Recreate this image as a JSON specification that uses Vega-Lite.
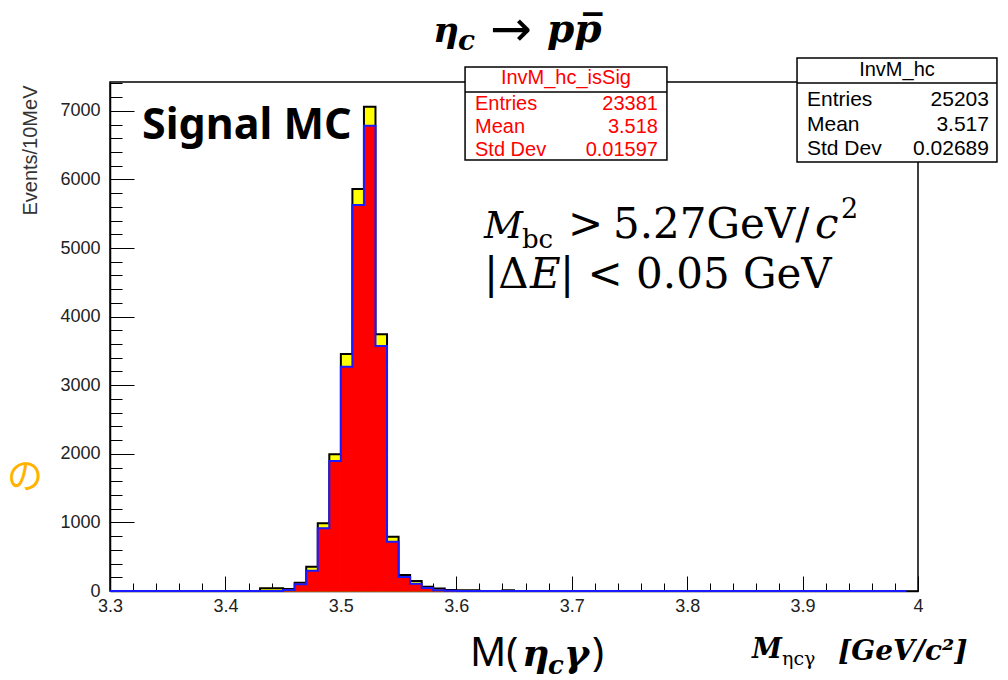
{
  "$schema": "https://vega.github.io/schema/vega-lite/v6.json",
  "width": 808,
  "height": 509,
  "autosize": {"type": "none"},
  "padding": {"left": 110, "top": 82, "right": 90, "bottom": 89},
  "background": "#ffffff",
  "config": {
    "view": {"stroke": "#000000", "strokeWidth": 1.5},
    "axis": {"grid": false}
  },
  "resolve": {"axis": {"x": "independent", "y": "independent"}},
  "datasets": {
    "hist": [
      {"lo": 3.30, "hi": 3.31, "total": 0, "sig": 0},
      {"lo": 3.31, "hi": 3.32, "total": 0, "sig": 0},
      {"lo": 3.32, "hi": 3.33, "total": 0, "sig": 0},
      {"lo": 3.33, "hi": 3.34, "total": 0, "sig": 0},
      {"lo": 3.34, "hi": 3.35, "total": 0, "sig": 0},
      {"lo": 3.35, "hi": 3.36, "total": 0, "sig": 0},
      {"lo": 3.36, "hi": 3.37, "total": 0, "sig": 0},
      {"lo": 3.37, "hi": 3.38, "total": 0, "sig": 0},
      {"lo": 3.38, "hi": 3.39, "total": 0, "sig": 0},
      {"lo": 3.39, "hi": 3.40, "total": 0, "sig": 0},
      {"lo": 3.40, "hi": 3.41, "total": 0, "sig": 0},
      {"lo": 3.41, "hi": 3.42, "total": 0, "sig": 0},
      {"lo": 3.42, "hi": 3.43, "total": 0, "sig": 0},
      {"lo": 3.43, "hi": 3.44, "total": 40, "sig": 0},
      {"lo": 3.44, "hi": 3.45, "total": 40, "sig": 0},
      {"lo": 3.45, "hi": 3.46, "total": 30, "sig": 15},
      {"lo": 3.46, "hi": 3.47, "total": 120, "sig": 100},
      {"lo": 3.47, "hi": 3.48, "total": 354, "sig": 296},
      {"lo": 3.48, "hi": 3.49, "total": 987, "sig": 914},
      {"lo": 3.49, "hi": 3.50, "total": 1993, "sig": 1895},
      {"lo": 3.50, "hi": 3.51, "total": 3455, "sig": 3270},
      {"lo": 3.51, "hi": 3.52, "total": 5860, "sig": 5627},
      {"lo": 3.52, "hi": 3.53, "total": 7060, "sig": 6783},
      {"lo": 3.53, "hi": 3.54, "total": 3742, "sig": 3571},
      {"lo": 3.54, "hi": 3.55, "total": 792, "sig": 719},
      {"lo": 3.55, "hi": 3.56, "total": 232, "sig": 205},
      {"lo": 3.56, "hi": 3.57, "total": 145, "sig": 106},
      {"lo": 3.57, "hi": 3.58, "total": 62, "sig": 45},
      {"lo": 3.58, "hi": 3.59, "total": 38, "sig": 12},
      {"lo": 3.59, "hi": 3.60, "total": 15, "sig": 3},
      {"lo": 3.60, "hi": 3.61, "total": 12, "sig": 0},
      {"lo": 3.61, "hi": 3.62, "total": 12, "sig": 0},
      {"lo": 3.62, "hi": 3.63, "total": 0, "sig": 0},
      {"lo": 3.63, "hi": 3.64, "total": 0, "sig": 0},
      {"lo": 3.64, "hi": 3.65, "total": 12, "sig": 0},
      {"lo": 3.65, "hi": 3.66, "total": 0, "sig": 0},
      {"lo": 3.66, "hi": 3.67, "total": 0, "sig": 0},
      {"lo": 3.67, "hi": 3.68, "total": 0, "sig": 0},
      {"lo": 3.68, "hi": 3.69, "total": 0, "sig": 0},
      {"lo": 3.69, "hi": 3.70, "total": 0, "sig": 0},
      {"lo": 3.70, "hi": 3.71, "total": 0, "sig": 0},
      {"lo": 3.71, "hi": 3.72, "total": 0, "sig": 0},
      {"lo": 3.72, "hi": 3.73, "total": 0, "sig": 0},
      {"lo": 3.73, "hi": 3.74, "total": 0, "sig": 0},
      {"lo": 3.74, "hi": 3.75, "total": 0, "sig": 0},
      {"lo": 3.75, "hi": 3.76, "total": 0, "sig": 0},
      {"lo": 3.76, "hi": 3.77, "total": 0, "sig": 0},
      {"lo": 3.77, "hi": 3.78, "total": 0, "sig": 0},
      {"lo": 3.78, "hi": 3.79, "total": 0, "sig": 0},
      {"lo": 3.79, "hi": 3.80, "total": 0, "sig": 0},
      {"lo": 3.80, "hi": 3.81, "total": 0, "sig": 0},
      {"lo": 3.81, "hi": 3.82, "total": 0, "sig": 0},
      {"lo": 3.82, "hi": 3.83, "total": 0, "sig": 0},
      {"lo": 3.83, "hi": 3.84, "total": 0, "sig": 0},
      {"lo": 3.84, "hi": 3.85, "total": 0, "sig": 0},
      {"lo": 3.85, "hi": 3.86, "total": 0, "sig": 0},
      {"lo": 3.86, "hi": 3.87, "total": 0, "sig": 0},
      {"lo": 3.87, "hi": 3.88, "total": 0, "sig": 0},
      {"lo": 3.88, "hi": 3.89, "total": 0, "sig": 0},
      {"lo": 3.89, "hi": 3.90, "total": 0, "sig": 0},
      {"lo": 3.90, "hi": 3.91, "total": 0, "sig": 0},
      {"lo": 3.91, "hi": 3.92, "total": 0, "sig": 0},
      {"lo": 3.92, "hi": 3.93, "total": 0, "sig": 0},
      {"lo": 3.93, "hi": 3.94, "total": 0, "sig": 0},
      {"lo": 3.94, "hi": 3.95, "total": 0, "sig": 0},
      {"lo": 3.95, "hi": 3.96, "total": 0, "sig": 0},
      {"lo": 3.96, "hi": 3.97, "total": 0, "sig": 0},
      {"lo": 3.97, "hi": 3.98, "total": 0, "sig": 0},
      {"lo": 3.98, "hi": 3.99, "total": 0, "sig": 0},
      {"lo": 3.99, "hi": 4.00, "total": 0, "sig": 0}
    ]
  },
  "layer": [
    {
      "data": {"name": "hist"},
      "transform": [{"filter": "datum.total > 0"}],
      "mark": {"type": "rect", "fill": "#ffff00", "stroke": "#ffff00", "strokeWidth": 1},
      "encoding": {
        "x": {
          "field": "lo", "type": "quantitative",
          "scale": {"domain": [3.3, 4.0], "nice": false, "zero": false},
          "axis": {
            "orient": "bottom",
            "title": null,
            "values": [3.3, 3.4, 3.5, 3.6, 3.7, 3.8, 3.9, 4.0],
            "format": "~g",
            "tickSize": -15,
            "tickColor": "#000000", "tickWidth": 1,
            "domainColor": "#000000", "domainWidth": 1.5,
            "labelFont": "Liberation Sans", "labelFontSize": 18, "labelColor": "#222222",
            "labelPadding": 21, "labelFlush": false, "labelOverlap": false, "labelBound": false
          }
        },
        "x2": {"field": "hi"},
        "y": {
          "field": "total", "type": "quantitative",
          "scale": {"domain": [0, 7420], "nice": false},
          "axis": {
            "orient": "left",
            "title": "Events/10MeV",
            "values": [0, 1000, 2000, 3000, 4000, 5000, 6000, 7000],
            "format": "d",
            "tickSize": -24,
            "tickColor": "#000000", "tickWidth": 1,
            "domainColor": "#000000", "domainWidth": 1.5,
            "labelFont": "Liberation Sans", "labelFontSize": 18, "labelColor": "#222222",
            "labelPadding": 34, "labelFlush": false, "labelOverlap": false, "labelBound": false,
            "titleFont": "Liberation Sans", "titleFontSize": 20, "titleFontWeight": "normal", "titleColor": "#333333",
            "titleX": -80, "titleY": 3, "titleAlign": "right", "titleBaseline": "middle", "titleAngle": -90
          }
        },
        "y2": {"datum": 0}
      }
    },
    {
      "data": {"name": "hist"},
      "mark": {"type": "line", "interpolate": "step-after", "stroke": "#000000", "strokeWidth": 2},
      "encoding": {
        "x": {
          "field": "lo", "type": "quantitative",
          "axis": {
            "orient": "bottom",
            "title": null,
            "values": [3.32,3.34,3.36,3.38,3.42,3.44,3.46,3.48,3.52,3.54,3.56,3.58,3.62,3.64,3.66,3.68,3.72,3.74,3.76,3.78,3.82,3.84,3.86,3.88,3.92,3.94,3.96,3.98],
            "labels": false, "domain": false,
            "tickSize": -8, "tickColor": "#000000", "tickWidth": 1
          }
        },
        "y": {
          "field": "total", "type": "quantitative",
          "axis": {
            "orient": "left",
            "title": null,
            "values": [200,400,600,800,1200,1400,1600,1800,2200,2400,2600,2800,3200,3400,3600,3800,4200,4400,4600,4800,5200,5400,5600,5800,6200,6400,6600,6800,7200,7400],
            "labels": false, "domain": false,
            "tickSize": -12, "tickColor": "#000000", "tickWidth": 1
          }
        }
      }
    },
    {
      "data": {"name": "hist"},
      "transform": [{"filter": "datum.sig > 0"}],
      "mark": {"type": "rect", "fill": "#ff0000", "stroke": "#ff0000", "strokeWidth": 1},
      "encoding": {
        "x": {"field": "lo", "type": "quantitative", "axis": null},
        "x2": {"field": "hi"},
        "y": {"field": "sig", "type": "quantitative", "axis": null},
        "y2": {"datum": 0}
      }
    },
    {
      "data": {"name": "hist"},
      "mark": {"type": "line", "interpolate": "step-after", "stroke": "#1a1aff", "strokeWidth": 2},
      "encoding": {
        "x": {"field": "lo", "type": "quantitative", "axis": null},
        "y": {"field": "sig", "type": "quantitative", "axis": null}
      }
    },
    {
      "data": {"values": [{}]},
      "mark": {"type": "rect", "fill": "#ffffff", "stroke": "#000000", "strokeWidth": 1.5},
      "encoding": {
        "x": {"datum": 3.6076, "type": "quantitative", "axis": null},
        "x2": {"datum": 3.7825},
        "y": {"datum": 7638, "type": "quantitative", "axis": null},
        "y2": {"datum": 6283}
      }
    },
    {
      "data": {"values": [{}]},
      "mark": {"type": "rule", "stroke": "#000000", "strokeWidth": 1.5},
      "encoding": {
        "x": {"datum": 3.6076, "type": "quantitative", "axis": null},
        "x2": {"datum": 3.7825},
        "y": {"datum": 7274, "type": "quantitative", "axis": null}
      }
    },
    {
      "data": {"values": [{}]},
      "mark": {"type": "text", "text": "InvM_hc_isSig", "font": "Liberation Sans", "fontSize": 20, "color": "#ff0000", "align": "center", "baseline": "middle"},
      "encoding": {
        "x": {"datum": 3.6950, "type": "quantitative", "axis": null},
        "y": {"datum": 7478, "type": "quantitative", "axis": null}
      }
    },
    {
      "data": {"values": [{}]},
      "mark": {"type": "text", "text": ["Entries", "Mean", "Std Dev"], "lineHeight": 23, "font": "Liberation Sans", "fontSize": 20, "color": "#ff0000", "align": "left", "baseline": "middle"},
      "encoding": {
        "x": {"datum": 3.6162, "type": "quantitative", "axis": null},
        "y": {"datum": 7099, "type": "quantitative", "axis": null}
      }
    },
    {
      "data": {"values": [{}]},
      "mark": {"type": "text", "text": ["23381", "3.518", "0.01597"], "lineHeight": 23, "font": "Liberation Sans", "fontSize": 20, "color": "#ff0000", "align": "right", "baseline": "middle"},
      "encoding": {
        "x": {"datum": 3.7747, "type": "quantitative", "axis": null},
        "y": {"datum": 7099, "type": "quantitative", "axis": null}
      }
    },
    {
      "data": {"values": [{}]},
      "mark": {"type": "rect", "fill": "#ffffff", "stroke": "#000000", "strokeWidth": 1.5},
      "encoding": {
        "x": {"datum": 3.8952, "type": "quantitative", "axis": null},
        "x2": {"datum": 4.0684},
        "y": {"datum": 7770, "type": "quantitative", "axis": null},
        "y2": {"datum": 6254}
      }
    },
    {
      "data": {"values": [{}]},
      "mark": {"type": "rule", "stroke": "#000000", "strokeWidth": 1.5},
      "encoding": {
        "x": {"datum": 3.8952, "type": "quantitative", "axis": null},
        "x2": {"datum": 4.0684},
        "y": {"datum": 7405, "type": "quantitative", "axis": null}
      }
    },
    {
      "data": {"values": [{}]},
      "mark": {"type": "text", "text": "InvM_hc", "font": "Liberation Sans", "fontSize": 20, "color": "#000000", "align": "center", "baseline": "middle"},
      "encoding": {
        "x": {"datum": 3.9818, "type": "quantitative", "axis": null},
        "y": {"datum": 7595, "type": "quantitative", "axis": null}
      }
    },
    {
      "data": {"values": [{}]},
      "mark": {"type": "text", "text": ["Entries", "Mean", "Std Dev"], "lineHeight": 24.5, "font": "Liberation Sans", "fontSize": 21, "color": "#000000", "align": "left", "baseline": "middle"},
      "encoding": {
        "x": {"datum": 3.9038, "type": "quantitative", "axis": null},
        "y": {"datum": 7157, "type": "quantitative", "axis": null}
      }
    },
    {
      "data": {"values": [{}]},
      "mark": {"type": "text", "text": ["25203", "3.517", "0.02689"], "lineHeight": 24.5, "font": "Liberation Sans", "fontSize": 21, "color": "#000000", "align": "right", "baseline": "middle"},
      "encoding": {
        "x": {"datum": 4.0615, "type": "quantitative", "axis": null},
        "y": {"datum": 7157, "type": "quantitative", "axis": null}
      }
    },
    {
      "data": {"values": [{}]},
      "mark": {"type": "text", "text": "η", "font": "DejaVu Serif", "fontSize": 36, "fontStyle": "italic", "fontWeight": "bold", "align": "left", "baseline": "alphabetic", "color": "#000000"},
      "encoding": {"x": {"datum": 3.5798, "type": "quantitative", "axis": null}, "y": {"datum": 8003, "type": "quantitative", "axis": null}}
    },
    {
      "data": {"values": [{}]},
      "mark": {"type": "text", "text": "c", "font": "DejaVu Serif", "fontSize": 28, "fontStyle": "italic", "fontWeight": "bold", "align": "left", "baseline": "alphabetic", "color": "#000000"},
      "encoding": {"x": {"datum": 3.6015, "type": "quantitative", "axis": null}, "y": {"datum": 7886, "type": "quantitative", "axis": null}}
    },
    {
      "data": {"values": [{}]},
      "mark": {"type": "text", "text": "→", "font": "DejaVu Sans", "fontSize": 50, "align": "center", "baseline": "middle", "color": "#000000"},
      "encoding": {"x": {"datum": 3.6474, "type": "quantitative", "axis": null}, "y": {"datum": 8163, "type": "quantitative", "axis": null}}
    },
    {
      "data": {"values": [{}]},
      "mark": {"type": "text", "text": "pp̅", "font": "DejaVu Serif", "fontSize": 39, "fontStyle": "italic", "fontWeight": "bold", "align": "left", "baseline": "alphabetic", "color": "#000000"},
      "encoding": {"x": {"datum": 3.6786, "type": "quantitative", "axis": null}, "y": {"datum": 8003, "type": "quantitative", "axis": null}}
    },
    {
      "data": {"values": [{}]},
      "mark": {"type": "text", "text": "Signal MC", "font": "Noto Sans", "fontSize": 43, "fontWeight": "bold", "align": "left", "baseline": "alphabetic", "color": "#000000"},
      "encoding": {"x": {"datum": 3.3277, "type": "quantitative", "axis": null}, "y": {"datum": 6589, "type": "quantitative", "axis": null}}
    },
    {
      "data": {"values": [{}]},
      "mark": {"type": "text", "text": "M", "font": "DejaVu Serif", "fontSize": 38, "fontStyle": "italic", "align": "left", "baseline": "alphabetic", "color": "#000000"},
      "encoding": {"x": {"datum": 3.6240, "type": "quantitative", "axis": null}, "y": {"datum": 5146, "type": "quantitative", "axis": null}}
    },
    {
      "data": {"values": [{}]},
      "mark": {"type": "text", "text": "bc", "font": "DejaVu Serif", "fontSize": 26, "align": "left", "baseline": "alphabetic", "color": "#000000"},
      "encoding": {"x": {"datum": 3.6569, "type": "quantitative", "axis": null}, "y": {"datum": 5000, "type": "quantitative", "axis": null}}
    },
    {
      "data": {"values": [{}]},
      "mark": {"type": "text", "text": ">", "font": "DejaVu Serif", "fontSize": 42, "align": "left", "baseline": "alphabetic", "color": "#000000"},
      "encoding": {"x": {"datum": 3.6968, "type": "quantitative", "axis": null}, "y": {"datum": 5146, "type": "quantitative", "axis": null}}
    },
    {
      "data": {"values": [{}]},
      "mark": {"type": "text", "text": "5.27GeV/", "font": "DejaVu Serif", "fontSize": 42, "align": "left", "baseline": "alphabetic", "color": "#000000"},
      "encoding": {"x": {"datum": 3.7358, "type": "quantitative", "axis": null}, "y": {"datum": 5146, "type": "quantitative", "axis": null}}
    },
    {
      "data": {"values": [{}]},
      "mark": {"type": "text", "text": "c", "font": "DejaVu Serif", "fontSize": 42, "fontStyle": "italic", "align": "left", "baseline": "alphabetic", "color": "#000000"},
      "encoding": {"x": {"datum": 3.9108, "type": "quantitative", "axis": null}, "y": {"datum": 5146, "type": "quantitative", "axis": null}}
    },
    {
      "data": {"values": [{}]},
      "mark": {"type": "text", "text": "2", "font": "DejaVu Serif", "fontSize": 27, "align": "left", "baseline": "alphabetic", "color": "#000000"},
      "encoding": {"x": {"datum": 3.9333, "type": "quantitative", "axis": null}, "y": {"datum": 5437, "type": "quantitative", "axis": null}}
    },
    {
      "data": {"values": [{}]},
      "mark": {"type": "text", "text": "|Δ", "font": "DejaVu Serif", "fontSize": 42, "align": "left", "baseline": "alphabetic", "color": "#000000"},
      "encoding": {"x": {"datum": 3.6240, "type": "quantitative", "axis": null}, "y": {"datum": 4417, "type": "quantitative", "axis": null}}
    },
    {
      "data": {"values": [{}]},
      "mark": {"type": "text", "text": "E", "font": "DejaVu Serif", "fontSize": 42, "fontStyle": "italic", "align": "left", "baseline": "alphabetic", "color": "#000000"},
      "encoding": {"x": {"datum": 3.6639, "type": "quantitative", "axis": null}, "y": {"datum": 4417, "type": "quantitative", "axis": null}}
    },
    {
      "data": {"values": [{}]},
      "mark": {"type": "text", "text": "| < 0.05 GeV", "font": "DejaVu Serif", "fontSize": 42, "align": "left", "baseline": "alphabetic", "color": "#000000"},
      "encoding": {"x": {"datum": 3.6899, "type": "quantitative", "axis": null}, "y": {"datum": 4417, "type": "quantitative", "axis": null}}
    },
    {
      "data": {"values": [{}]},
      "mark": {"type": "text", "text": "の", "font": "Noto Sans CJK JP", "fontSize": 36, "align": "center", "baseline": "middle", "color": "#FFB300"},
      "encoding": {"x": {"datum": 3.2264, "type": "quantitative", "axis": null}, "y": {"datum": 1647, "type": "quantitative", "axis": null}}
    },
    {
      "data": {"values": [{}]},
      "mark": {"type": "text", "text": "M(", "font": "Noto Sans", "fontSize": 40, "align": "left", "baseline": "alphabetic", "color": "#000000"},
      "encoding": {"x": {"datum": 3.6119, "type": "quantitative", "axis": null}, "y": {"datum": -1093, "type": "quantitative", "axis": null}}
    },
    {
      "data": {"values": [{}]},
      "mark": {"type": "text", "text": "η", "font": "DejaVu Serif", "fontSize": 38, "fontStyle": "italic", "fontWeight": "bold", "align": "left", "baseline": "alphabetic", "color": "#000000"},
      "encoding": {"x": {"datum": 3.6569, "type": "quantitative", "axis": null}, "y": {"datum": -1093, "type": "quantitative", "axis": null}}
    },
    {
      "data": {"values": [{}]},
      "mark": {"type": "text", "text": "c", "font": "DejaVu Serif", "fontSize": 26, "fontStyle": "italic", "fontWeight": "bold", "align": "left", "baseline": "alphabetic", "color": "#000000"},
      "encoding": {"x": {"datum": 3.6794, "type": "quantitative", "axis": null}, "y": {"datum": -1210, "type": "quantitative", "axis": null}}
    },
    {
      "data": {"values": [{}]},
      "mark": {"type": "text", "text": "γ", "font": "DejaVu Serif", "fontSize": 38, "fontStyle": "italic", "fontWeight": "bold", "align": "left", "baseline": "alphabetic", "color": "#000000"},
      "encoding": {"x": {"datum": 3.6933, "type": "quantitative", "axis": null}, "y": {"datum": -1093, "type": "quantitative", "axis": null}}
    },
    {
      "data": {"values": [{}]},
      "mark": {"type": "text", "text": ")", "font": "Noto Sans", "fontSize": 40, "align": "left", "baseline": "alphabetic", "color": "#000000"},
      "encoding": {"x": {"datum": 3.7175, "type": "quantitative", "axis": null}, "y": {"datum": -1093, "type": "quantitative", "axis": null}}
    },
    {
      "data": {"values": [{}]},
      "mark": {"type": "text", "text": "M", "font": "DejaVu Serif", "fontSize": 27, "fontStyle": "italic", "fontWeight": "bold", "align": "left", "baseline": "alphabetic", "color": "#000000"},
      "encoding": {"x": {"datum": 3.8562, "type": "quantitative", "axis": null}, "y": {"datum": -977, "type": "quantitative", "axis": null}}
    },
    {
      "data": {"values": [{}]},
      "mark": {"type": "text", "text": "ηcγ", "font": "DejaVu Serif", "fontSize": 19, "align": "left", "baseline": "alphabetic", "color": "#000000"},
      "encoding": {"x": {"datum": 3.8822, "type": "quantitative", "axis": null}, "y": {"datum": -1079, "type": "quantitative", "axis": null}}
    },
    {
      "data": {"values": [{}]},
      "mark": {"type": "text", "text": "[GeV/c²]", "font": "DejaVu Serif", "fontSize": 28, "fontStyle": "italic", "fontWeight": "bold", "align": "left", "baseline": "alphabetic", "color": "#000000"},
      "encoding": {"x": {"datum": 3.9307, "type": "quantitative", "axis": null}, "y": {"datum": -1006, "type": "quantitative", "axis": null}}
    }
  ]
}
